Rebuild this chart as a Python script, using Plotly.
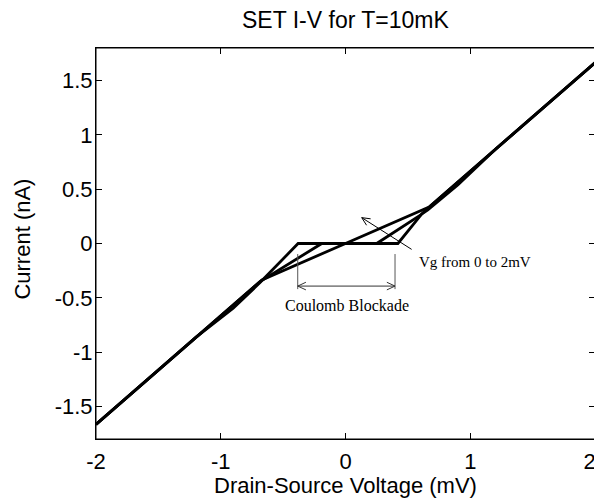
import math
import plotly.graph_objects as go

# ---- data ----
curve1_x = [-2.0, -1.2, -0.9, -0.685, -0.38, 0.42, 0.61, 0.66, 0.9, 1.2, 2.0]
curve1_y = [-1.665, -0.865, -0.595, -0.36, 0.0, 0.0, 0.27, 0.31, 0.54, 0.865, 1.665]
curve2_x = [-2.0, -0.685, -0.19, 0.25, 0.6, 0.66, 2.0]
curve2_y = [-1.665, -0.35, 0.0, 0.0, 0.26, 0.325, 1.665]
curve3_x = [-2.0, -0.67, 0.0, 0.67, 2.0]
curve3_y = [-1.665, -0.335, 0.0, 0.335, 1.665]

x_ticks = [-2, -1, 0, 1, 2]
x_tick_labels = ["-2", "-1", "0", "1", "2\u2002"]
y_ticks = [-1.5, -1, -0.5, 0, 0.5, 1, 1.5]
y_tick_labels = ["-1.5", "-1", "-0.5", "0", "0.5", "1", "1.5"]

title = "SET I-V for T=10mK"
x_title = "Drain-Source Voltage (mV)"
y_title = "Current (nA)"

# ---- layout constants (page has an 8px body margin) ----
OFF = 8
W, H = 602 - OFF, 498 - OFF
ML, MR, MT, MB = 96 - OFF, 7, 48 - OFF, 59
XR = [-2, 2]
YR = [-1.8, 1.8]
PW, PH = W - ML - MR, H - MT - MB
PX = PW / (XR[1] - XR[0])
PY = PH / (YR[1] - YR[0])
TICK_FS = 22
LABEL_FS = 22

fig = go.Figure()
for xs, ys in [(curve1_x, curve1_y), (curve2_x, curve2_y), (curve3_x, curve3_y)]:
    fig.add_trace(go.Scatter(x=xs, y=ys, mode="lines",
                             line=dict(color="black", width=2.8),
                             showlegend=False, hoverinfo="skip"))

shapes = [dict(type="rect", xref="paper", yref="paper", x0=0, y0=0, x1=1, y1=1,
               line=dict(color="black", width=1), layer="above")]


def seg(x0, y0, x1, y1, color="black", width=1):
    shapes.append(dict(type="line", xref="x", yref="y", x0=x0, y0=y0, x1=x1, y1=y1,
                       line=dict(color=color, width=width)))


def open_head(xt, yt, xh, yh, length=9, ang=25, color="black"):
    dx = (xh - xt) * PX
    dy = (yh - yt) * PY
    L = math.hypot(dx, dy)
    ux, uy = -dx / L, -dy / L
    for s in (1, -1):
        a = math.radians(ang * s)
        rx = ux * math.cos(a) - uy * math.sin(a)
        ry = ux * math.sin(a) + uy * math.cos(a)
        seg(xh, yh, xh + rx * length / PX, yh + ry * length / PY, color)


# Vg arrow
arr_tail = (0.53, -0.054)
arr_head = (0.13, 0.238)
seg(*arr_tail, *arr_head)
open_head(*arr_tail, *arr_head)

# Coulomb blockade markers
cb_left, cb_right = -0.383, 0.397
cb_top, cb_bot, cb_arrow_y = -0.097, -0.42, -0.392
seg(cb_left, cb_top, cb_left, cb_bot, color="#555555")
seg(cb_right, cb_top, cb_right, cb_bot, color="#555555")
seg(cb_left, cb_arrow_y, cb_right, cb_arrow_y, color="#333333")
open_head(cb_right, cb_arrow_y, cb_left, cb_arrow_y, color="#333333")
open_head(cb_left, cb_arrow_y, cb_right, cb_arrow_y, color="#333333")

annotations = [
    dict(x=0.573, y=-0.171, xref="x", yref="y", text="Vg from 0 to 2mV",
         showarrow=False, xanchor="left", yanchor="middle",
         font=dict(family="Liberation Serif", size=15, color="black")),
    dict(x=0.01, y=-0.568, xref="x", yref="y", text="Coulomb Blockade",
         showarrow=False, xanchor="center", yanchor="middle",
         font=dict(family="Liberation Serif", size=16, color="black")),
    # axis titles (page pixel positions converted to paper units)
    dict(x=0.5, y=-(485 - (498 - MB)) / PH, xref="paper", yref="paper",
         text=x_title, showarrow=False, xanchor="center", yanchor="middle",
         font=dict(family="Liberation Sans", size=LABEL_FS, color="black")),
    dict(x=-(96 - 23) / PW, y=0.51, xref="paper", yref="paper",
         text=y_title, showarrow=False, xanchor="center", yanchor="middle",
         textangle=-90,
         font=dict(family="Liberation Sans", size=LABEL_FS, color="black")),
    dict(x=0.5, y=1 + (48 - 20) / PH, xref="paper", yref="paper",
         text=title, showarrow=False, xanchor="center", yanchor="middle",
         font=dict(family="Liberation Sans", size=23, color="black")),
]

fig.update_layout(
    width=W, height=H,
    margin=dict(l=ML, r=MR, t=MT, b=MB),
    paper_bgcolor="white", plot_bgcolor="white",
    font=dict(family="Liberation Sans", size=TICK_FS, color="black"),
    shapes=shapes,
    annotations=annotations,
    showlegend=False,
)
fig.update_xaxes(range=XR, tickvals=x_ticks, ticktext=x_tick_labels, ticks="inside",
                 ticklen=6, tickcolor="black", showline=True, linecolor="black",
                 linewidth=1, mirror="ticks", showgrid=False, zeroline=False,
                 automargin=False, ticklabelstandoff=3, ticklabeloverflow="allow")
fig.update_yaxes(range=YR, tickvals=y_ticks, ticktext=y_tick_labels, ticks="inside",
                 ticklen=6, tickcolor="black", showline=True, linecolor="black",
                 linewidth=1, mirror="ticks", showgrid=False, zeroline=False,
                 automargin=False, ticklabelstandoff=-2)

fig.write_html("out.html")
